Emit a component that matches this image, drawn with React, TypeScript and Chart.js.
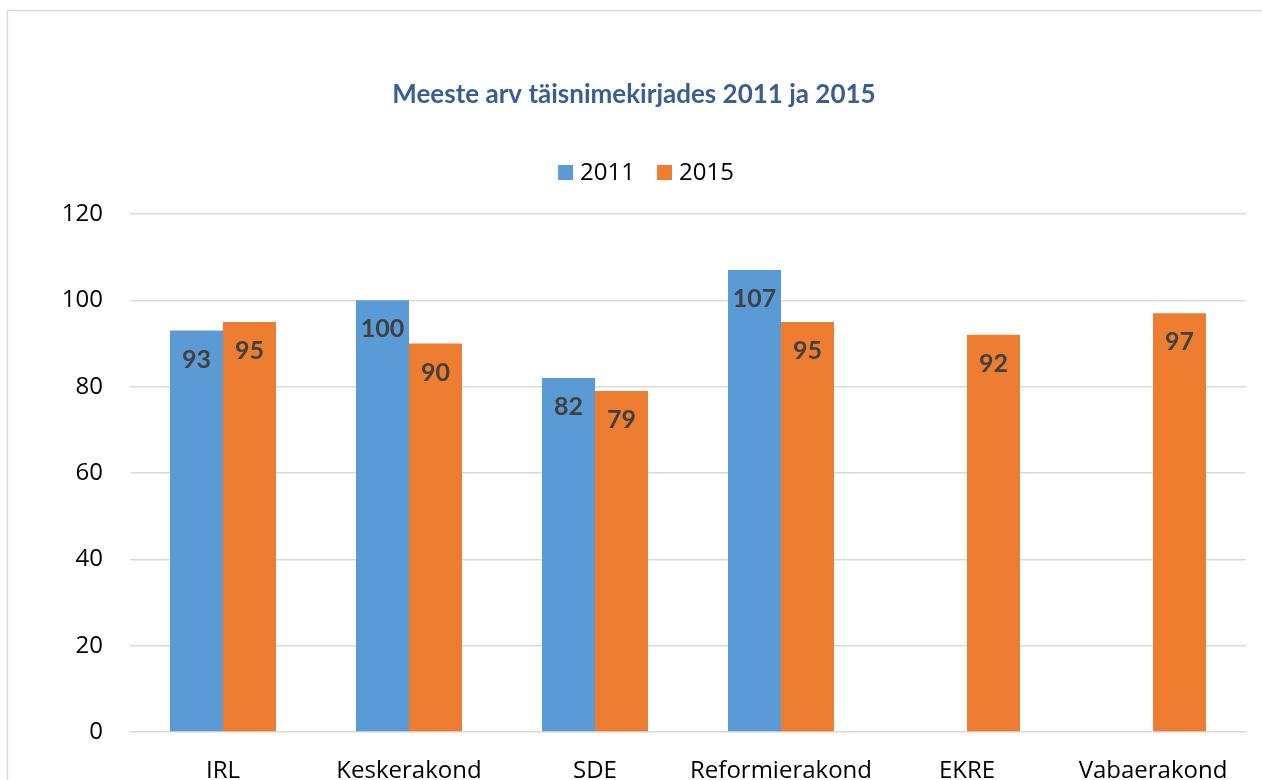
import React, { useEffect, useRef } from "react";
import { Chart, registerables } from "chart.js";

Chart.register(...registerables);

const categories = ["IRL", "Keskerakond", "SDE", "Reformierakond", "EKRE", "Vabaerakond"];
const values2011: (number | null)[] = [93, 100, 82, 107, null, null];
const values2015: (number | null)[] = [95, 90, 79, 95, 92, 97];
const seriesNames = ["2011", "2015"];
const yTicks = [0, 20, 40, 60, 80, 100, 120];
const titleText = "Meeste arv täisnimekirjades 2011 ja 2015";

const BLUE = "#5B9BD5";
const ORANGE = "#ED7D31";
const GRID = "#D9D9D9";

const decorPlugin = {
  id: "decor",
  beforeDraw(chart: any) {
    const ctx = chart.ctx;
    ctx.save();
    ctx.strokeStyle = GRID;
    ctx.lineWidth = 1.5;
    ctx.beginPath();
    ctx.moveTo(7.5, 780);
    ctx.lineTo(7.5, 10.5);
    ctx.lineTo(1262, 10.5);
    ctx.stroke();
    ctx.restore();
  },
  afterDraw(chart: any) {
    const ctx = chart.ctx;
    ctx.save();
    // title
    ctx.fillStyle = "#3B5E91";
    ctx.font = "bold 26px Lato";
    ctx.textAlign = "center";
    ctx.textBaseline = "middle";
    ctx.fillText(titleText, 634, 95);
    // legend
    ctx.font = "24px 'Open Sans'";
    ctx.textAlign = "left";
    const colors = [BLUE, ORANGE];
    const box = 15, gap = 7, between = 22;
    const widths = seriesNames.map((s) => ctx.measureText(s).width);
    const total = widths.reduce((a, w) => a + box + gap + w, 0) + between * (seriesNames.length - 1);
    let x = 646 - total / 2;
    const cy = 172;
    seriesNames.forEach((s, i) => {
      ctx.fillStyle = colors[i];
      ctx.fillRect(x, cy - 7, box, box);
      x += box + gap;
      ctx.fillStyle = "#000000";
      ctx.fillText(s, x, cy + 1);
      x += widths[i] + between;
    });
    ctx.restore();
  },
  afterDatasetsDraw(chart: any) {
    const ctx = chart.ctx;
    ctx.save();
    ctx.font = "bold 25px Lato";
    ctx.fillStyle = "#404040";
    ctx.textAlign = "center";
    ctx.textBaseline = "middle";
    chart.data.datasets.forEach((ds: any, di: number) => {
      const meta = chart.getDatasetMeta(di);
      meta.data.forEach((el: any, i: number) => {
        const v = ds.data[i];
        if (v === null || v === undefined) return;
        ctx.fillText(String(v), el.x, el.y + 29);
      });
    });
    ctx.restore();
  },
};

export default function App() {
  const ref = useRef<HTMLCanvasElement>(null);
  useEffect(() => {
    if (!ref.current) return;
    const chart = new Chart(ref.current, {
      type: "bar",
      data: {
        labels: categories,
        datasets: [
          { label: seriesNames[0], data: values2011, backgroundColor: BLUE },
          { label: seriesNames[1], data: values2015, backgroundColor: ORANGE },
        ],
      },
      options: {
        animation: false,
        responsive: false,
        devicePixelRatio: 1,
        layout: { padding: { left: 0, right: 16, top: 214, bottom: 0 } },
        plugins: { legend: { display: false }, title: { display: false }, tooltip: { enabled: false } },
        datasets: { bar: { categoryPercentage: 0.57, barPercentage: 1 } },
        scales: {
          x: {
            grid: { display: false, drawTicks: false },
            border: { display: false },
            ticks: { color: "#000", font: { family: "'Open Sans'", size: 24 }, padding: 25, maxRotation: 0, autoSkip: false },
            afterFit: (s: any) => { s.height = 48; },
          },
          y: {
            min: 0,
            max: 120,
            afterBuildTicks: (s: any) => { s.ticks = yTicks.map((v) => ({ value: v })); },
            grid: { color: GRID, lineWidth: 1.5, drawTicks: false },
            border: { display: false },
            ticks: { color: "#000", font: { family: "'Open Sans'", size: 24 }, padding: 27 },
            afterFit: (s: any) => { s.width = 130; },
          },
        },
      },
      plugins: [decorPlugin],
    });
    return () => chart.destroy();
  }, []);
  return (
    <div style={{ position: "absolute", left: 0, top: 0, width: 1262, height: 780, background: "#fff" }}>
      <canvas ref={ref} width={1262} height={780} />
    </div>
  );
}
